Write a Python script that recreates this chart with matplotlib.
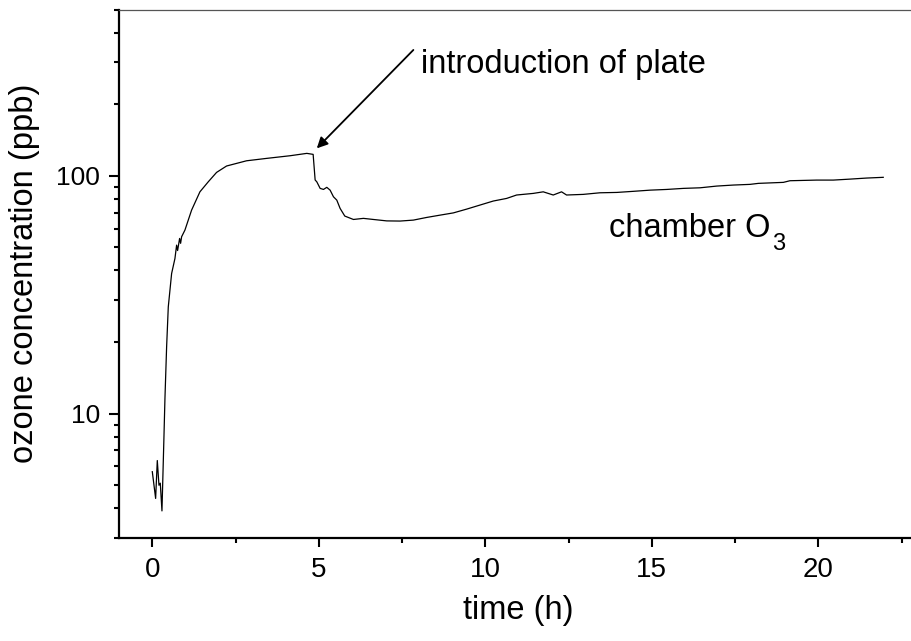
import matplotlib
matplotlib.use("Agg")
import matplotlib.pyplot as plt
from matplotlib.ticker import FixedLocator, NullFormatter, LogLocator, MultipleLocator

plt.rcParams['font.family'] = ['Liberation Sans', 'DejaVu Sans']

# time (h)
time_h = [0.00, 0.10, 0.15, 0.20, 0.24, 0.29, 0.35, 0.38, 0.43, 0.48, 0.58, 0.68, 0.73,
          0.76, 0.82, 0.85, 0.88, 0.98, 1.18, 1.43, 1.68, 1.93, 2.23, 2.83, 3.43, 4.14,
          4.64, 4.83, 4.89, 4.94, 5.04, 5.14, 5.24, 5.34, 5.44, 5.54, 5.64, 5.78, 6.04,
          6.34, 6.64, 7.04, 7.44, 7.84, 8.24, 8.64, 9.04, 9.44, 9.84, 10.24, 10.64, 10.94,
          11.44, 11.74, 12.04, 12.29, 12.44, 12.94, 13.44, 13.95, 14.44, 14.95, 15.45,
          15.95, 16.45, 16.95, 17.45, 17.95, 18.20, 18.95, 19.15, 19.95, 20.45, 20.95,
          21.45, 21.95]
# ozone concentration (ppb)
ozone_ppb = [5.7, 4.4, 6.35, 5.0, 5.1, 3.9, 8.0, 11.6, 19.1, 28.1, 38.8, 44.9, 51.1,
             48.5, 54.5, 52.0, 55.4, 59.1, 71.7, 85.6, 94.3, 103.3, 109.9, 115.6, 118.3, 121.4,
             124.2, 123.0, 96.0, 94.3, 88.5, 87.6, 89.4, 87.0, 81.6, 79.0, 72.9, 67.7, 65.5,
             66.2, 65.5, 64.6, 64.5, 65.1, 66.8, 68.3, 69.8, 72.4, 75.3, 78.3, 80.3, 83.0,
             84.3, 85.6, 83.0, 85.6, 83.0, 83.5, 84.8, 85.1, 86.0, 87.0, 87.6,
             88.5, 89.0, 90.5, 91.4, 92.0, 92.9, 93.8, 95.3, 95.9, 95.9, 96.8,
             97.8, 98.5]

x_ticks = [0, 5, 10, 15, 20]
y_ticks = [10, 100]
y_tick_labels = ["10", "100"]

fig = plt.figure(figsize=(9.11, 6.41), dpi=100)
ax = fig.add_axes([119/911, (641-538)/641, (918.2-119)/911, (538-9.5)/641])

ax.plot(time_h, ozone_ppb, color='black', lw=0.9)

ax.set_yscale('log')
ax.set_ylim(3, 500)
ax.set_xlim(-1, 23)

ax.xaxis.set_major_locator(FixedLocator(x_ticks))
ax.xaxis.set_minor_locator(MultipleLocator(2.5))
ax.yaxis.set_major_locator(FixedLocator(y_ticks))
ax.set_yticklabels(y_tick_labels)
ax.yaxis.set_minor_locator(LogLocator(base=10, subs=range(2, 10)))
ax.yaxis.set_minor_formatter(NullFormatter())

ax.tick_params(which='major', direction='out', length=6.5, width=1.5)
ax.tick_params(axis='x', which='major', labelsize=20, pad=7)
ax.tick_params(axis='y', which='major', labelsize=19, length=7.5, pad=6)
ax.tick_params(which='minor', direction='out', length=3.3, width=1.5)
ax.tick_params(top=False, right=False)

for s in ['left', 'bottom']:
    ax.spines[s].set_linewidth(1.6)
ax.spines['right'].set_visible(False)
ax.spines['top'].set_linewidth(0.9)
ax.spines['top'].set_color('#555555')

ax.set_xlabel('time (h)', fontsize=23.5, labelpad=9)
ax.set_ylabel('ozone concentration (ppb)', fontsize=23.5, labelpad=12)

ax.annotate('', xy=(4.94, 130.4), xytext=(7.84, 338),
            arrowprops=dict(arrowstyle='-|>', color='black', lw=1.3,
                            mutation_scale=16, shrinkA=0, shrinkB=0))
ax.text(8.07, 270, 'introduction of plate', fontsize=23.5, ha='left', va='baseline')
ax.text(13.72, 55.1, 'chamber O', fontsize=23.5, ha='left', va='baseline')
ax.text(18.60, 48.6, '3', fontsize=17, ha='left', va='baseline')

fig.savefig('out.png', dpi=100)
